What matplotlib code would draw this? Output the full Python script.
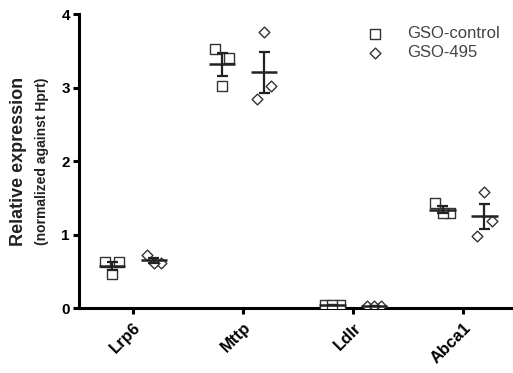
import matplotlib
matplotlib.use("Agg")
import matplotlib.pyplot as plt
import numpy as np

plt.rcParams['font.family'] = ['Liberation Sans', 'DejaVu Sans']

genes = ['Lrp6', 'Mttp', 'Ldlr', 'Abca1']
control = [
    [0.63, 0.63, 0.46],
    [3.52, 3.41, 3.02],
    [0.04, 0.04, 0.04],
    [1.43, 1.29, 1.29],
]
treated = [
    [0.72, 0.62, 0.62],
    [2.84, 3.02, 3.76],
    [0.03, 0.03, 0.03],
    [0.98, 1.18, 1.58],
]
series = [('GSO-control', control, 's'), ('GSO-495', treated, 'D')]

jitter = [-0.065, 0.065, 0.0]
group_off = [-0.19, 0.19]
dark = '#222222'

fig = plt.figure(figsize=(5.13, 3.73), dpi=100)
ax = fig.add_axes([0.154, 0.174, 0.846, 0.788])

handles = []
for (name, data, mk), off in zip(series, group_off):
    for i, vals in enumerate(data):
        xs = [i + off + j for j in jitter]
        h = ax.scatter(xs, vals, marker=mk, s=50 if mk == 's' else 30,
                       facecolors='white', edgecolors='#333333',
                       linewidths=1.0, zorder=3, label=name)
        m = np.mean(vals)
        sem = np.std(vals, ddof=1) / np.sqrt(len(vals))
        ax.hlines(m, i + off - 0.12, i + off + 0.12, color=dark, lw=1.8, zorder=4)
        ax.vlines(i + off, m - sem, m + sem, color=dark, lw=1.6, zorder=4)
        ax.hlines([m - sem, m + sem], i + off - 0.05, i + off + 0.05,
                  color=dark, lw=1.6, zorder=4)
    handles.append(h)

ax.set_xlim(-0.49, 3.45)
ax.set_ylim(0, 4)
ax.set_yticks([0, 1, 2, 3, 4])
ax.set_xticks(range(len(genes)))
ax.set_xticklabels(genes, rotation=45, ha='right', rotation_mode='anchor',
                   fontsize=12, fontweight='bold')
for t in ax.get_yticklabels():
    t.set_fontsize(11)
    t.set_fontweight('bold')

for s in ['top', 'right']:
    ax.spines[s].set_visible(False)
for s in ['left', 'bottom']:
    ax.spines[s].set_linewidth(2.2)
ax.tick_params(width=2.2, length=4.5, pad=2, colors='black')
ax.tick_params(axis='x', pad=4)

fig.text(0.037, 0.567, 'Relative expression', rotation=90, ha='center',
         va='center', fontsize=13, fontweight='bold', color='#222222')
fig.text(0.082, 0.567, '(normalized against Hprt)', rotation=90, ha='center',
         va='center', fontsize=10, fontweight='bold', color='#222222')

leg = ax.legend(handles=handles, loc='upper left', bbox_to_anchor=(0.61, 1.01),
                frameon=False, fontsize=12, handletextpad=0.9,
                labelspacing=0.22, markerscale=1.0)
for t in leg.get_texts():
    t.set_color('#444444')

fig.savefig('out.png', dpi=100)
